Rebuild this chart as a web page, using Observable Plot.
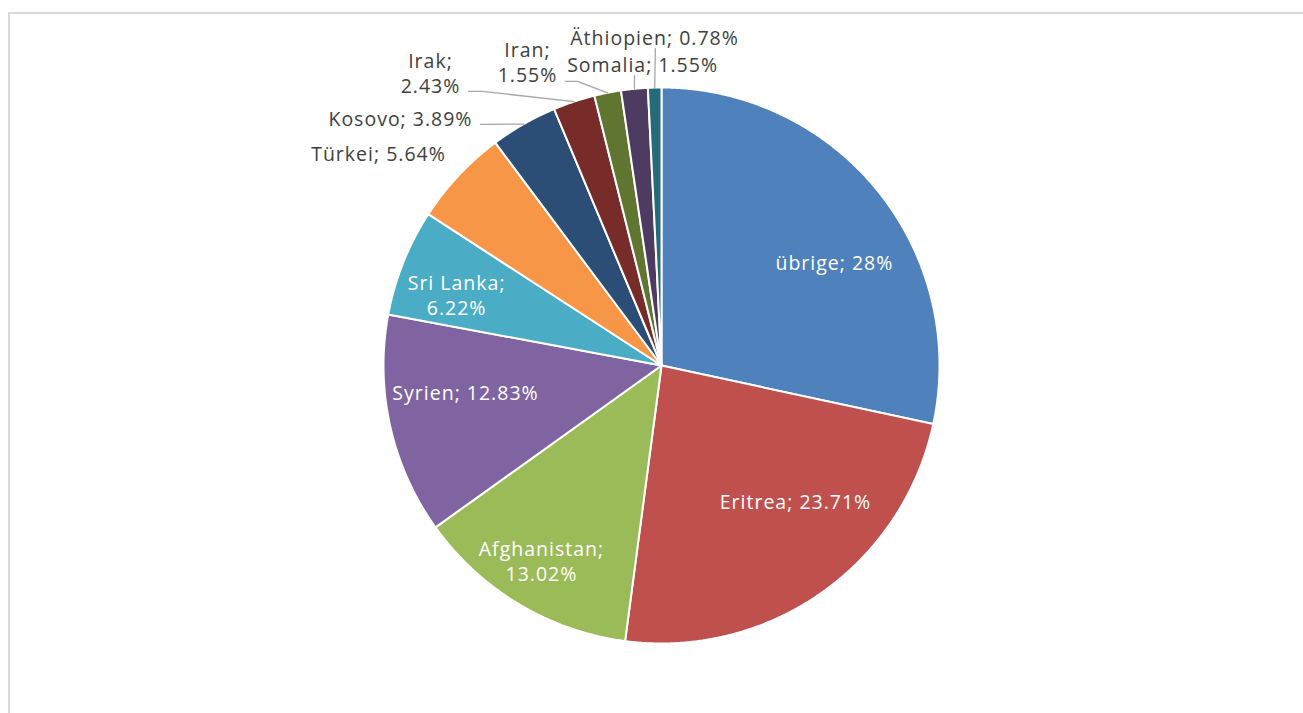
<!DOCTYPE html>
<html><head><meta charset="utf-8">
<script src="https://cdn.jsdelivr.net/npm/d3@7"></script>
<script src="https://cdn.jsdelivr.net/npm/@observablehq/plot@0.6"></script>
<style>
body{margin:0;background:#fff;overflow:hidden;width:1303px;height:713px;}
#frame{position:absolute;left:8px;top:12px;width:1400px;height:800px;border-top:2px solid #d9d9d9;border-left:2px solid #d9d9d9;}
#chart{position:absolute;left:0;top:0;}
#chart text{letter-spacing:1px;}
</style></head><body><div id="frame"></div><div id="chart"></div>
<script>
// ---- data ----
const countries = ["übrige","Eritrea","Afghanistan","Syrien","Sri Lanka","Türkei","Kosovo","Irak","Iran","Somalia","Äthiopien"];
const shares = [28.38,23.71,13.02,12.83,6.22,5.64,3.89,2.43,1.55,1.55,0.78];
const shareText = ["28%","23.71%","13.02%","12.83%","6.22%","5.64%","3.89%","2.43%","1.55%","1.55%","0.78%"];
const colors = ["#4F81BD","#C0504D","#9BBB59","#8064A2","#4BACC6","#F79646","#2C4D75","#772C2A","#5F7530","#4D3B62","#276A7C"];

// ---- label layout (in pie-radius units, centre = 0,0) ----
const labelInside = [true,true,true,true,true,false,false,false,false,false,false];
const labelBreak  = [false,false,true,false,true,false,false,true,true,false,false];
const labelX = [0.622,0.482,-0.432,-0.705,-0.737,-1.018,-0.939,-0.831,-0.482,-0.068,-0.025];
const labelY = [0.371,-0.486,-0.700,-0.097,0.257,0.763,0.892,1.054,1.092,1.086,1.180];
// leader start & knee (null = no leader)
const leaderPts = [null,null,null,null,null,null,
  [[-0.651,0.867]],
  [[-0.694,0.986],[-0.644,0.986]],
  [[-0.345,1.022],[-0.302,1.022]],
  [[-0.097,1.043]],
  [[-0.022,1.140]]];

const R = 278, cx = 661, cy = 365;

const arcs = d3.pie().sort(null).value(d => d)(shares);
const poly = [];
arcs.forEach((a, i) => {
  const k = countries[i];
  poly.push({k, x: 0, y: 0});
  const n = Math.max(4, Math.ceil((a.endAngle - a.startAngle) / 0.005));
  for (let j = 0; j <= n; j++) {
    const t = a.startAngle + (a.endAngle - a.startAngle) * j / n;
    poly.push({k, x: Math.sin(t), y: Math.cos(t)});
  }
});

const labels = countries.map((c, i) => ({
  k: c,
  text: c + ";" + (labelBreak[i] ? "\n" : " ") + shareText[i],
  x: labelX[i], y: labelY[i],
  inside: labelInside[i]
}));

const leaders = [];
arcs.forEach((a, i) => {
  if (!leaderPts[i]) return;
  const k = countries[i];
  leaderPts[i].forEach(p => leaders.push({k, x: p[0], y: p[1]}));
  const m = (a.startAngle + a.endAngle) / 2;
  leaders.push({k, x: Math.sin(m), y: Math.cos(m)});
});

const chart = Plot.plot({
  width: 1303, height: 713, margin: 0,
  style: {fontFamily: "'Open Sans', 'Noto Sans', sans-serif", background: "transparent"},
  x: {domain: [-1, 1], range: [cx - R, cx + R], axis: null},
  y: {domain: [-1, 1], range: [cy + R, cy - R], axis: null},
  color: {domain: countries, range: colors},
  marks: [
    Plot.line(poly, {x: "x", y: "y", z: "k", fill: "k", stroke: "white", strokeWidth: 2, curve: "linear-closed", strokeLinejoin: "round"}),
    Plot.line(leaders, {x: "x", y: "y", z: "k", stroke: "#a6a6a6", strokeWidth: 1.3}),
    Plot.text(labels.filter(d => d.inside), {x: "x", y: "y", text: "text", fill: "white", fontSize: 19.5, lineHeight: 1.28}),
    Plot.text(labels.filter(d => !d.inside), {x: "x", y: "y", text: "text", fill: "#404040", fontSize: 19.5, lineHeight: 1.28})
  ]
});
document.getElementById("chart").appendChild(chart);
</script></body></html>
